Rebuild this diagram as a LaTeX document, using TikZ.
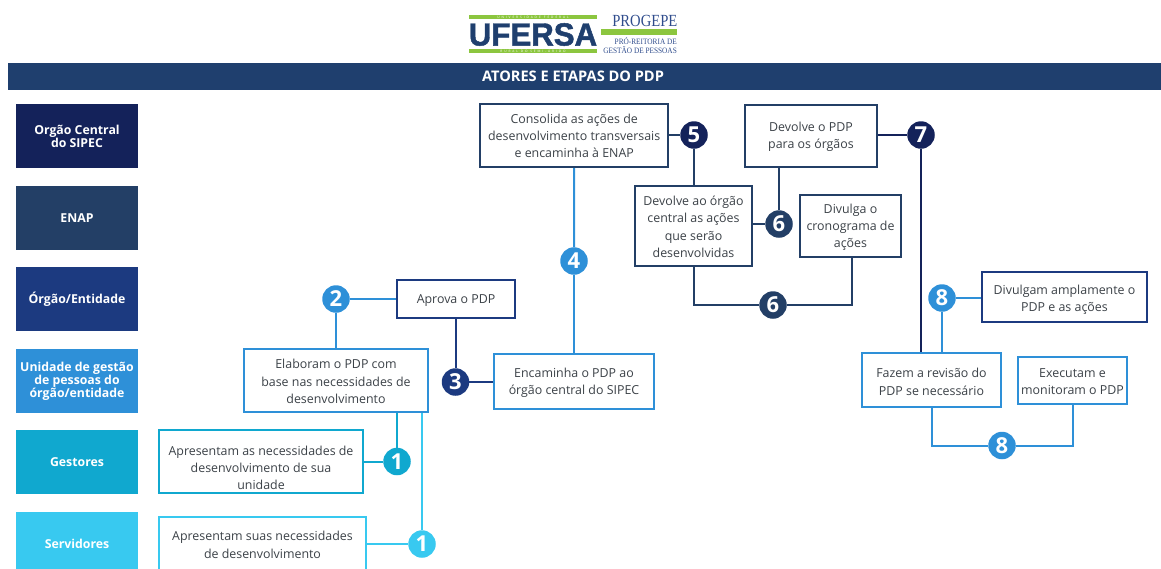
\documentclass[tikz,border=0pt]{standalone}
\usepackage{fontspec}
\usetikzlibrary{backgrounds}
\setmainfont{Open Sans}
\newfontfamily\logoserif{Liberation Serif}
\newfontfamily\logosans[FakeBold=1.5]{Liberation Sans}
\definecolor{cNavy}{HTML}{14225A}
\definecolor{cEnap}{HTML}{233F66}
\definecolor{cOrg}{HTML}{1C3A80}
\definecolor{cUni}{HTML}{2E90D8}
\definecolor{cGes}{HTML}{10A8CF}
\definecolor{cSer}{HTML}{38C9F0}
\definecolor{cHead}{HTML}{1F3F6E}
\definecolor{cTxt}{HTML}{3C4248}
\definecolor{cGreen}{HTML}{8CC63F}
\definecolor{cLogo}{HTML}{1F3F6E}
\definecolor{cProg}{HTML}{2F4C8C}
\tikzset{
  actor/.style={minimum width=122, minimum height=64, inner sep=0, outer sep=0, text=white,
    align=center, font=\fontsize{12.3}{13}\selectfont\bfseries},
  stepbox/.style={draw=#1, fill=white, line width=2, inner sep=0, outer sep=0, align=center, text=cTxt,
    font=\fontsize{12.4}{17.3}\selectfont},
  badge/.style={circle, fill=#1, minimum size=27.5, inner sep=0, outer sep=0, text=white,
    font=\fontsize{22}{22}\selectfont\bfseries},
  link/.style={draw=#1, line width=2},
  strip/.style={fill=cGreen, inner sep=0, outer sep=0},
}
\begin{document}
\begin{tikzpicture}[x=1pt,y=-1pt]
\useasboundingbox (0,0) rectangle (1161,568);
\clip (0,0) rectangle (1161,568);
% logo
\node[strip, minimum width=128, minimum height=4] (stripA) at (533,17) {\fontsize{3.2}{3.2}\selectfont\addfontfeature{LetterSpace=60}\textcolor{white}{UNIVERSIDADE\quad FEDERAL}};
\node[strip, minimum width=128, minimum height=4] (stripB) at (533,51) {\fontsize{3.2}{3.2}\selectfont\addfontfeature{LetterSpace=60}\textcolor{white}{RURAL DO SEMI-ÁRIDO}};
\node[inner sep=0, text=cLogo, font=\logosans\fontsize{32}{32}\selectfont\bfseries, xscale=0.975] (ufersa) at (533,34.5) {UFERSA};
\node[strip, minimum width=76, minimum height=5.5] (bar) at (639,32) {};
\node[inner sep=0, anchor=east, text=cProg, font=\logoserif\fontsize{17}{17}\selectfont, xscale=0.86] (progepe) at (677.5,21) {PROGEPE};
\node[inner sep=0, anchor=east, text=cProg, font=\logoserif\fontsize{8.2}{8.2}\selectfont, xscale=0.89] (pro) at (677,41) {PRÓ-REITORIA DE};
\node[inner sep=0, anchor=east, text=cProg, font=\logoserif\fontsize{8.2}{8.2}\selectfont, xscale=0.89] (gest) at (677,50) {GESTÃO DE PESSOAS};
% header
\node[fill=cHead, minimum width=1153, minimum height=27, inner sep=0, outer sep=0, text=white,
  font=\fontsize{14.6}{14.6}\selectfont\bfseries] (head) at (584.5,76.5) {\hspace{-23pt}ATORES E ETAPAS DO PDP};
% actors
\node[actor, fill=cNavy] (a1) at (77,136) {Orgão Central\\do SIPEC};
\node[actor, fill=cEnap] (a2) at (77,218) {ENAP};
\node[actor, fill=cOrg] (a3) at (77,299) {Órgão/Entidade};
\node[actor, fill=cUni] (a4) at (77,381) {Unidade de gestão\\de pessoas do\\órgão/entidade};
\node[actor, fill=cGes] (a5) at (77,462) {Gestores};
\node[actor, fill=cSer] (a6) at (77,544) {Servidores};
% step boxes
\node[stepbox=cOrg, minimum width=118, minimum height=38] (aprova) at (456,299) {\\[-6pt]Aprova o PDP};
\node[stepbox=cUni, minimum width=184, minimum height=63] (elab) at (336,380.5) {\\[-6pt]Elaboram o PDP com\\base nas necessidades de\\desenvolvimento};
\node[stepbox=cUni, minimum width=160, minimum height=55] (enc) at (574,381.5) {\\[-6pt]Encaminha o PDP ao\\órgão central do SIPEC};
\node[stepbox=cGes, minimum width=204, minimum height=63] (apg) at (261,461.5) {\\[5pt]Apresentam as necessidades de\\desenvolvimento de sua\\unidade};
\node[stepbox=cSer, minimum width=207, minimum height=63] (aps) at (262.5,548.5) {\\[-15pt]Apresentam suas necessidades\\de desenvolvimento};
\node[stepbox=cEnap, minimum width=187.5, minimum height=62.5] (cons) at (574.2,135.7) {Consolida as ações de\\desenvolvimento transversais\\e encaminha à ENAP};
\node[stepbox=cEnap, minimum width=117, minimum height=80] (devo) at (693.5,226) {\\[-6pt]Devolve ao órgão\\central as ações\\que serão\\desenvolvidas};
\node[stepbox=cEnap, minimum width=132, minimum height=62] (devp) at (811,136) {\\[-6pt]Devolve o PDP\\para os órgãos};
\node[stepbox=cEnap, minimum width=101, minimum height=62] (divu) at (850.5,226) {\\[-5pt]Divulga o\\cronograma de\\ações};
\node[stepbox=cOrg, minimum width=165, minimum height=50] (divg) at (1064.5,297) {\\[-3pt]Divulgam amplamente o\\PDP e as ações};
\node[stepbox=cUni, minimum width=139, minimum height=54] (faz) at (931.5,380) {\\[-4pt]Fazem a revisão do\\PDP se necessário};
\node[stepbox=cUni, minimum width=109, minimum height=47] (exe) at (1072.5,380.5) {\\[-6pt]Executam e\\monitoram o PDP};
% badges
\node[badge=cGes] (b1a) at (397,461.5) {1};
\node[badge=cSer] (b1b) at (422,544) {1};
\node[badge=cUni] (b2) at (336,299) {2};
\node[badge=cOrg] (b3) at (455.5,382) {3};
\node[badge=cUni] (b4) at (574,261) {4};
\node[badge=cNavy] (b5) at (694,135) {5};
\node[badge=cEnap] (b6a) at (779,224) {6};
\node[badge=cEnap] (b6b) at (773,305) {6};
\node[badge=cNavy] (b7) at (921,135) {7};
\node[badge=cUni] (b8a) at (942,298) {8};
\node[badge=cUni] (b8b) at (1002,445.5) {8};
% connectors, behind the badges and boxes
\begin{pgfonlayer}{background}
\draw[link=cGes] (b1a) -- (b1a |- elab.south);
\draw[link=cGes] (b1a) -- (b1a -| apg.east);
\draw[link=cSer] (b1b) -- (b1b |- elab.south);
\draw[link=cSer] (b1b) -- (b1b -| aps.east);
\draw[link=cUni] (b2) -- (b2 |- elab.north);
\draw[link=cUni] (b2) -- (aprova.west);
\draw[link=cOrg] (b3) -- (b3 |- aprova.south);
\draw[link=cOrg] (b3) -- (b3 -| enc.west);
\draw[link=cUni] (b4) -- (cons.south);
\draw[link=cUni] (b4) -- (enc.north);
\draw[link=cEnap] (b5) -- (b5 -| cons.east);
\draw[link=cEnap] (b5) -- (b5 |- devo.north);
\draw[link=cEnap] (b6a) -- (b6a |- devp.south);
\draw[link=cEnap] (b6a) -- (b6a -| devo.east);
\draw[link=cEnap] (b6b) -- (devo.south |- b6b) -- (devo.south);
\draw[link=cEnap] (b6b) -- ([xshift=1.5pt]divu.south |- b6b) -- ([xshift=1.5pt]divu.south);
\draw[link=cNavy] (b7) -- (b7 -| devp.east);
\draw[link=cNavy] (b7) -- (b7 |- faz.north);
\draw[link=cUni] (b8a) -- (b8a -| divg.west);
\draw[link=cUni] (b8a) -- (b8a |- faz.north);
\draw[link=cUni] (b8b) -- (faz.south |- b8b) -- (faz.south);
\draw[link=cUni] (b8b) -- (exe.south |- b8b) -- (exe.south);
\end{pgfonlayer}
\end{tikzpicture}
\end{document}
